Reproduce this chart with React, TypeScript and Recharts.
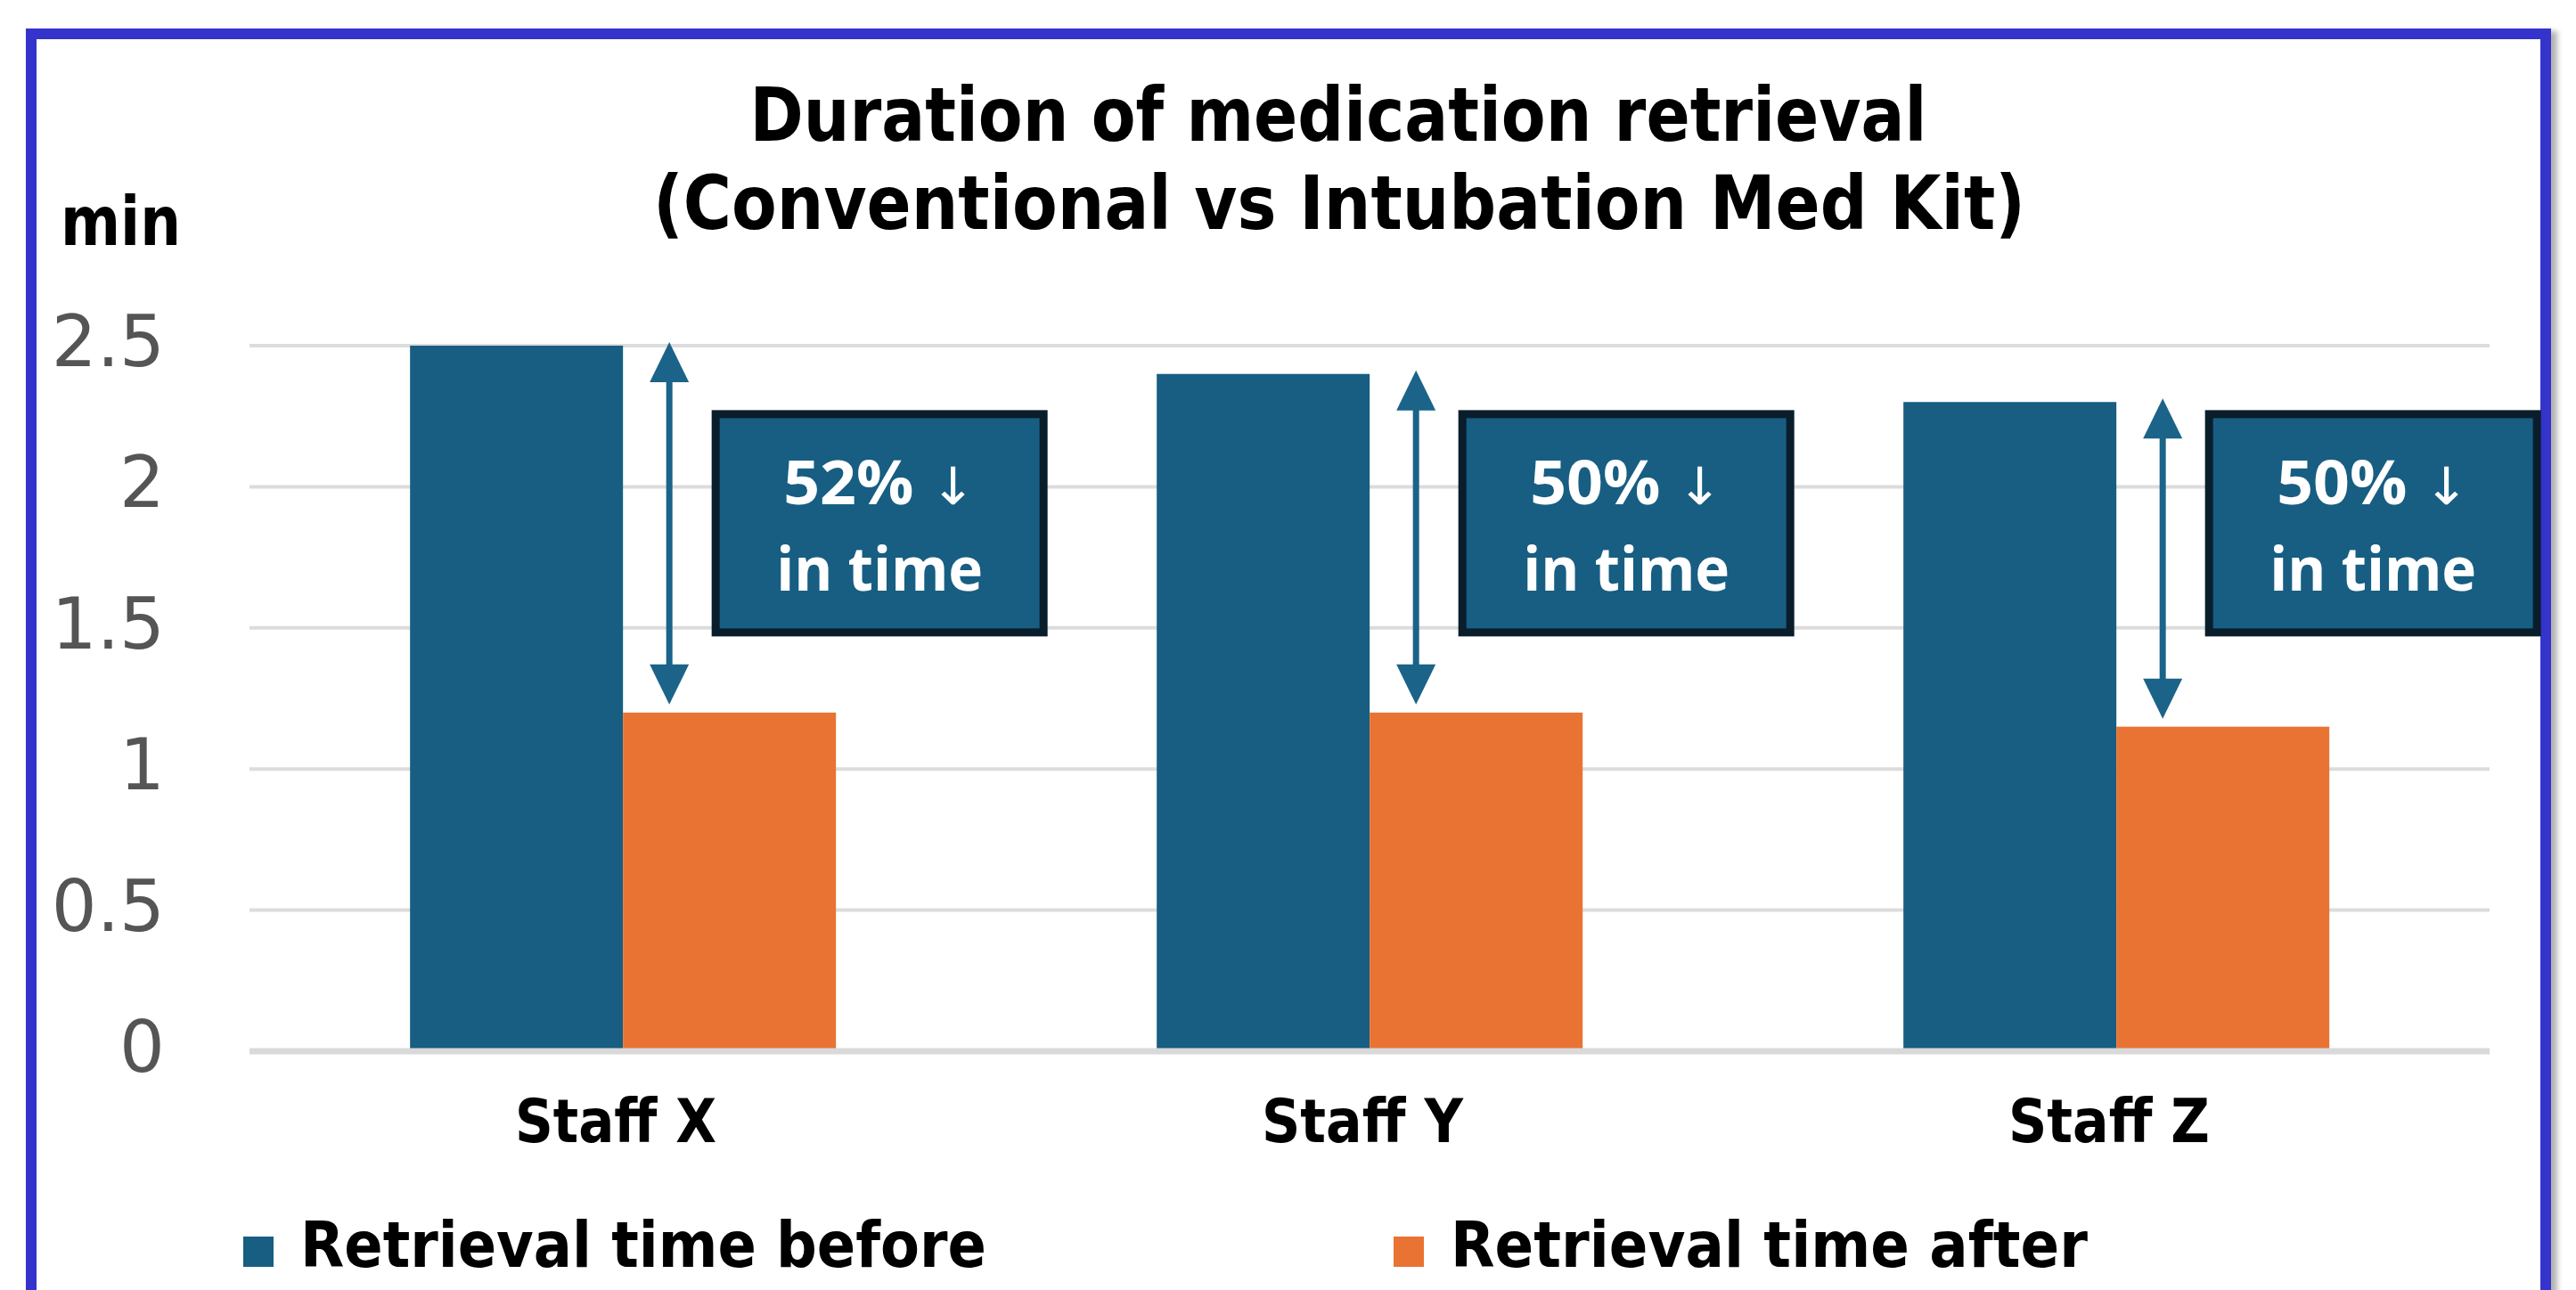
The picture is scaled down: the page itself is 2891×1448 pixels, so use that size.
import React from "react";
import { BarChart, Bar, XAxis, YAxis, CartesianGrid, Legend } from "recharts";

// values (minutes)
const staff = ["Staff X", "Staff Y", "Staff Z"];
const timeBefore = [2.5, 2.4, 2.3];
const timeAfter = [1.2, 1.2, 1.15];
const reduction = ["52%", "50%", "50%"];
const yTicks = [0, 0.5, 1, 1.5, 2, 2.5];

const seriesNames = ["Retrieval time before", "Retrieval time after"];

const data = staff.map((name, i) => ({
  name,
  before: timeBefore[i],
  after: timeAfter[i],
  reduction: reduction[i],
}));

const BLUE = "#175E82";
const ORANGE = "#E97332";
const BOLD = "'DejaVu Sans', Verdana, sans-serif";

// annotation layout (relative to the "after" bar)
const ARROW_DX = 52;
const BOX_DX = 100;
const BOX_W = 376;
const BOX_H = 253;
const BOX_TOP_VALUE = 2.27;

function AfterShape(props: any) {
  const { x, y, width, height, fill, payload } = props;
  const base = y + height;
  const perUnit = height / payload.after;
  const yOf = (v: number) => base - v * perUnit;

  const ax = x + ARROW_DX;
  const top = yOf(payload.before) - 4;
  const bottom = y - 9;
  const head = 45;
  const hw = 22;
  const bx = x + BOX_DX;
  const by = yOf(BOX_TOP_VALUE);
  const cx = bx + BOX_W / 2;

  return (
    <g>
      <rect x={x} y={y} width={width} height={height} fill={fill} />
      <line x1={ax} y1={top + head - 2} x2={ax} y2={bottom - head + 2} stroke="#1B6388" strokeWidth={7} />
      <polygon points={`${ax},${top} ${ax - hw},${top + head} ${ax + hw},${top + head}`} fill="#1B6388" />
      <polygon points={`${ax},${bottom} ${ax - hw},${bottom - head} ${ax + hw},${bottom - head}`} fill="#1B6388" />
      <rect
        x={bx + 4}
        y={by + 4}
        width={BOX_W - 8}
        height={BOX_H - 8}
        fill={BLUE}
        stroke="#0A1D2B"
        strokeWidth={9}
      />
      <text
        x={cx}
        y={by + 105}
        textAnchor="middle"
        fill="#fff"
        fontFamily="'Open Sans', sans-serif"
        fontWeight={700}
        fontSize={68}
        textLength={216}
        lengthAdjust="spacingAndGlyphs"
      >
        {payload.reduction}{" "}
        <tspan fontFamily="'DejaVu Sans', sans-serif" fontWeight="normal" fontSize={58}>
          ↓
        </tspan>
      </text>
      <text
        x={cx}
        y={by + 202}
        textAnchor="middle"
        fill="#fff"
        fontFamily="'Open Sans', sans-serif"
        fontWeight={700}
        fontSize={68}
        textLength={232}
        lengthAdjust="spacingAndGlyphs"
      >
        in time
      </text>
    </g>
  );
}

function YTick({ x, y, payload }: any) {
  return (
    <text x={x} y={y + 23} textAnchor="end" fill="#555" fontFamily="'DejaVu Sans', sans-serif" fontSize={80}>
      {payload.value}
    </text>
  );
}

function XTick({ x, y, payload }: any) {
  return (
    <text
      x={x - 8}
      y={y + 102}
      textAnchor="middle"
      fill="#000"
      fontFamily={BOLD}
      fontWeight="bold"
      fontSize={68}
      textLength={226}
      lengthAdjust="spacingAndGlyphs"
    >
      {payload.value}
    </text>
  );
}

const legendX = [273, 1564];
const legendLen = [770, 715];

function LegendContent({ payload }: any) {
  const items = [...(payload || [])].sort(
    (a: any, b: any) => seriesNames.indexOf(a.value) - seriesNames.indexOf(b.value)
  );
  return (
    <svg width={2891} height={100}>
      {items.map((p: any, i: number) => (
        <g key={p.value}>
          <rect x={legendX[i]} y={48} width={34} height={34} fill={p.color} />
          <text
            x={legendX[i] + 64}
            y={82}
            fill="#000"
            fontFamily={BOLD}
            fontWeight="bold"
            fontSize={71}
            textLength={legendLen[i]}
            lengthAdjust="spacingAndGlyphs"
          >
            {p.value}
          </text>
        </g>
      ))}
    </svg>
  );
}

export default function App() {
  return (
    <div
      style={{
        position: "absolute",
        left: 0,
        top: 0,
        width: 2891,
        height: 1448,
        overflow: "hidden",
        background: "#fff",
      }}
    >
      <div
        style={{
          position: "absolute",
          left: 29,
          top: 32,
          width: 2834,
          height: 1500,
          boxSizing: "border-box",
          border: "12px solid #3434CC",
          boxShadow: "7px 3px 6px rgba(0,0,0,0.3)",
        }}
      />
      <div style={{ position: "absolute", left: 0, top: 0 }}>
        <BarChart
          width={2891}
          height={1448}
          data={data}
          margin={{ top: 388, right: 97, bottom: 168, left: 0 }}
          barCategoryGap="21.5%"
          barGap={0}
        >
          <CartesianGrid vertical={false} stroke="#dcdcdc" strokeWidth={4} />
          <XAxis
            dataKey="name"
            height={100}
            interval={0}
            tickLine={false}
            tickSize={0}
            tickMargin={0}
            axisLine={{ stroke: "#d9d9d9", strokeWidth: 7 }}
            tick={<XTick />}
          />
          <YAxis
            width={280}
            domain={[0, 2.5]}
            ticks={yTicks}
            axisLine={false}
            tickLine={false}
            tickSize={0}
            tickMargin={95}
            tick={<YTick />}
          />
          <Legend
            layout="horizontal"
            verticalAlign="middle"
            align="center"
            content={<LegendContent />}
            wrapperStyle={{ left: 0, top: 1340, width: 2891, height: 100, margin: 0 }}
          />
          <Bar dataKey="before" name={seriesNames[0]} fill={BLUE} isAnimationActive={false} />
          <Bar dataKey="after" name={seriesNames[1]} fill={ORANGE} shape={<AfterShape />} isAnimationActive={false} />
        </BarChart>
      </div>
      <svg
        width={2891}
        height={1448}
        style={{ position: "absolute", left: 0, top: 0, pointerEvents: "none" }}
      >
        <text
          x={1502}
          y={158}
          textAnchor="middle"
          fontFamily={BOLD}
          fontWeight="bold"
          fontSize={84}
          textLength={1321}
          lengthAdjust="spacingAndGlyphs"
        >
          Duration of medication retrieval
        </text>
        <text
          x={1503}
          y={257}
          textAnchor="middle"
          fontFamily={BOLD}
          fontWeight="bold"
          fontSize={84}
          textLength={1540}
          lengthAdjust="spacingAndGlyphs"
        >
          (Conventional vs Intubation Med Kit)
        </text>
        <text
          x={68}
          y={275}
          fontFamily={BOLD}
          fontWeight="bold"
          fontSize={76}
          textLength={135}
          lengthAdjust="spacingAndGlyphs"
        >
          min
        </text>
      </svg>
    </div>
  );
}
